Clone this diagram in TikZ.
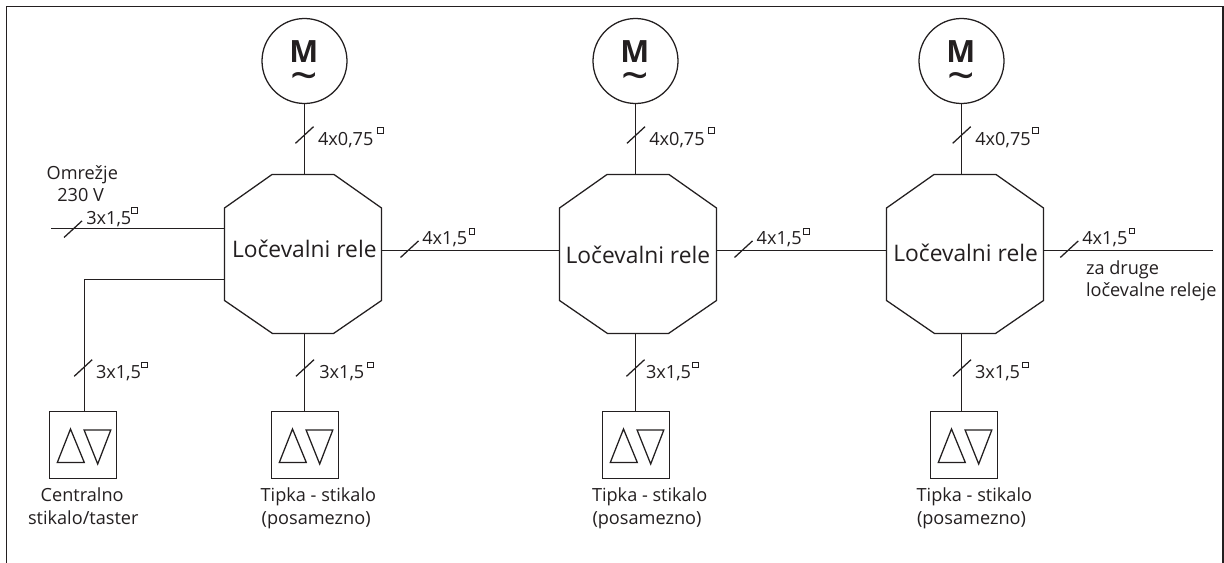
\documentclass[tikz,border=0pt]{standalone}
\usepackage{fontspec}
\setmainfont{Open Sans}
\usetikzlibrary{calc}
\definecolor{ink}{HTML}{231F20}
\tikzset{
  wire/.style={draw=ink,line width=1.1pt},
  thin wire/.style={draw=ink,line width=.95pt},
  txt/.style={anchor=base west,inner sep=0pt,outer sep=0pt,text=ink,font=\fontsize{13.6}{16}\selectfont},
  reltxt/.style={anchor=base,inner sep=0pt,outer sep=0pt,text=ink,font=\fontsize{17.1}{20}\selectfont},
  motor/.style={circle,draw=ink,line width=.95pt,minimum size=63.75pt,inner sep=0pt,outer sep=0pt},
  octo/.style={rectangle,inner sep=0pt,outer sep=0pt,minimum width=117.75pt,minimum height=119.25pt},
  switchbox/.style={rectangle,draw=ink,line width=.95pt,minimum width=50.25pt,minimum height=50.25pt,inner sep=0pt,outer sep=0pt},
  sq/.style={rectangle,draw=ink,line width=.75pt,minimum size=4.3pt,inner sep=0pt,outer sep=0pt,anchor=north west},
}
% octagon outline around a named node
\newcommand{\octoline}[1]{%
  \draw[thin wire] ($(#1.north west)+(47.5,0)$) -- ($(#1.north east)+(-47.5,0)$) -- ($(#1.north east)+(0,33.5)$)
    -- ($(#1.south east)+(0,-33)$) -- ($(#1.south east)+(-48,0)$) -- ($(#1.south west)+(48,0)$)
    -- ($(#1.south west)+(0,-33)$) -- ($(#1.north west)+(0,33.5)$) -- cycle;}
% switch box with two triangles
\newcommand{\trianglesin}[1]{%
  \draw[thin wire,line join=miter] ($(#1.north west)+(7.8,51)$) -- ($(#1.north west)+(21,17.5)$) -- ($(#1.north west)+(34.8,51)$) -- cycle;
  \draw[thin wire,line join=miter] ($(#1.north west)+(34.6,18.5)$) -- ($(#1.north west)+(61.3,18.5)$) -- ($(#1.north west)+(48.2,52.5)$) -- cycle;}
% motor symbol: one text, the wave set under the letter
\newcommand{\motorsym}[1]{%
  \node[anchor=base,inner sep=0pt,text=ink,font=\fontsize{23}{23}\bfseries\selectfont] (#1S) at ($(#1.center)+(-0.6,1.3)$)
    {\makebox[0pt]{M}\makebox[0pt]{\raisebox{-22.5pt}{\fontsize{36}{36}\mdseries\selectfont\textasciitilde}}};}
% slash: centre relative
\newcommand{\slashat}[1]{\draw[thin wire] ($(#1)+(-9,8.3)$) -- ($(#1)+(9,-8.3)$);}
\begin{document}
\begin{tikzpicture}[x=.75pt,y=-.75pt]
\useasboundingbox (0,0) rectangle (1224,563);
\fill[white] (0,0) rectangle (1224,563);
\draw[draw=ink,line width=1.25pt] (6.5,563) -- (6.5,6.5) -- (1223,6.5) -- (1223,563);

% motors
\node[motor] (m1) at (304.5,61) {};
\node[motor] (m2) at (635.5,61) {};
\node[motor] (m3) at (961.5,61) {};
\motorsym{m1}\motorsym{m2}\motorsym{m3}

% relays
\node[octo] (o1) at (303,254) {};
\node[octo] (o2) at (638,254) {};
\node[octo] (o3) at (965,254) {};
\octoline{o1}\octoline{o2}\octoline{o3}
\node[reltxt] (r1) at (304.3,257.7) {Ločevalni rele};
\node[reltxt] (r2) at (637.9,263.3) {Ločevalni rele};
\node[reltxt] (r3) at (965.6,261) {Ločevalni rele};

% switch boxes
\node[switchbox] (b0) at (83,445) {};
\node[switchbox] (b1) at (305,445) {};
\node[switchbox] (b2) at (636,445) {};
\node[switchbox] (b3) at (964,445) {};
\trianglesin{b0}\trianglesin{b1}\trianglesin{b2}\trianglesin{b3}

% free ends
\coordinate (mains) at (51,228.5);
\coordinate (next) at (1212.7,250.5);
\coordinate (bend) at (84.5,279.5);

% vertical connectors
\draw[wire] (m1.south) -- (m1.south |- o1.north);
\draw[wire] (m2.south) -- (m2.south |- o2.north);
\draw[wire] (m3.south) -- (m3.south |- o3.north);
\draw[wire] (m1.south |- o1.south) -- (m1.south |- b1.north);
\draw[wire] (m2.south |- o2.south) -- (m2.south |- b2.north);
\draw[wire] (m3.south |- o3.south) -- (m3.south |- b3.north);

% horizontal connectors
\draw[wire] (mains) -- (mains -| o1.west);
\draw[wire] (bend -| o1.west) -- (bend) -- (bend |- b0.north);
\draw[wire] (o1.east |- next) -- (o2.west |- next);
\draw[wire] (o2.east |- next) -- (o3.west |- next);
\draw[wire] (o3.east |- next) -- (next);

% slashes
\foreach \c in {{304.5,135},{636,135},{961.7,135},{73,229.2},{409.5,249.2},{743.5,249.2},{1069.3,249.2},{83.2,368},{305,368},{635.5,368},{962,368}}{\slashat{\c}}

% cable labels
\node[txt] (l1) at (318,145.7) {4x0,75};
\node[txt] (l2) at (649.3,145.7) {4x0,75};
\node[txt] (l3) at (975.3,145.7) {4x0,75};
\node[sq] (s1) at (377.6,127.6) {};
\node[sq] (s2) at (708.6,127.6) {};
\node[sq] (s3) at (1032.3,127.6) {};
\node[txt] (l4) at (86.3,224.3) {3x1,5};
\node[sq] (s4) at (131.6,207.3) {};
\node[txt] (l5) at (422.3,244) {4x1,5};
\node[txt] (l6) at (756.7,244) {4x1,5};
\node[txt] (l7) at (1082.3,244) {4x1,5};
\node[sq] (s5) at (469,228.3) {};
\node[sq] (s6) at (803.3,228.3) {};
\node[sq] (s7) at (1129,228) {};
\node[txt] (l8) at (96,378.7) {3x1,5};
\node[txt] (l9) at (319.3,378.7) {3x1,5};
\node[txt] (l10) at (646,378.7) {3x1,5};
\node[txt] (l11) at (975,378.7) {3x1,5};
\node[sq] (s8) at (141.6,362) {};
\node[sq] (s9) at (367.6,362) {};
\node[sq] (s10) at (692.6,362) {};
\node[sq] (s11) at (1022.6,362) {};

% descriptive labels
\node[txt] (t1) at (46.7,179.3) {Omrežje};
\node[txt] (t2) at (57.3,201.7) {230 V};
\node[txt] (t3) at (1086,274) {za druge};
\node[txt] (t4) at (1086,296) {ločevalne releje};
\node[txt] (t5) at (40.7,501.7) {Centralno};
\node[txt] (t6) at (28,524) {stikalo/taster};
\node[txt] (t7) at (260.7,501.7) {Tipka - stikalo};
\node[txt] (t8) at (261.7,524) {(posamezno)};
\node[txt] (t9) at (592,501.7) {Tipka - stikalo};
\node[txt] (t10) at (592.5,524) {(posamezno)};
\node[txt] (t11) at (916.7,501.7) {Tipka - stikalo};
\node[txt] (t12) at (917,524) {(posamezno)};
\end{tikzpicture}
\end{document}
